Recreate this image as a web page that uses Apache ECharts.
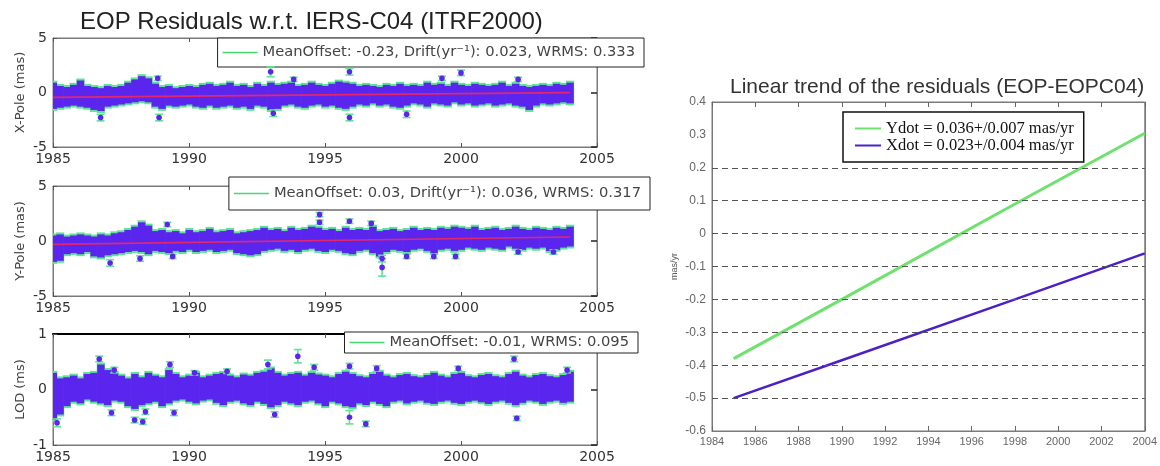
<!DOCTYPE html>
<html>
<head>
<meta charset="utf-8">
<script src="https://cdn.jsdelivr.net/npm/echarts@6/dist/echarts.min.js"></script>
<style>
  html, body { margin: 0; padding: 0; background: #fff; }
  #chart { width: 1160px; height: 466px; }
</style>
</head>
<body>
<div id="chart"></div>
<script>
// ---- Residual clouds: [epoch, lowest, highest] of the dense daily residuals ----
const xPoleBand = [
  [1985.00,-1.5,0.9],[1985.25,-1.4,0.6],[1985.50,-1.3,0.5],[1985.75,-1.2,0.7],
  [1986.00,-1.3,1.1],[1986.25,-1.4,0.6],[1986.50,-1.6,0.5],[1986.75,-1.7,0.4],
  [1987.00,-1.3,0.6],[1987.25,-1.2,0.5],[1987.50,-1.1,0.6],[1987.75,-1.0,0.9],
  [1988.00,-0.9,1.2],[1988.25,-0.8,1.5],[1988.50,-0.9,1.3],[1988.75,-1.3,0.8],
  [1989.00,-1.5,0.5],[1989.25,-1.2,0.6],[1989.50,-1.3,0.4],[1989.75,-1.2,0.5],
  [1990.00,-1.1,0.6],[1990.25,-1.3,0.5],[1990.50,-1.4,0.7],[1990.75,-1.2,0.8],
  [1991.00,-1.4,0.6],[1991.25,-1.3,0.7],[1991.50,-1.2,0.9],[1991.75,-1.4,0.6],
  [1992.00,-1.3,0.7],[1992.25,-1.5,0.5],[1992.50,-1.2,0.8],[1992.75,-1.3,0.6],
  [1993.00,-1.6,0.9],[1993.25,-1.5,0.7],[1993.50,-1.2,0.8],[1993.75,-1.1,0.9],
  [1994.00,-1.3,0.6],[1994.25,-1.4,0.7],[1994.50,-1.2,0.9],[1994.75,-1.1,0.7],
  [1995.00,-1.3,0.6],[1995.25,-1.2,0.8],[1995.50,-1.4,1.0],[1995.75,-1.5,0.9],
  [1996.00,-1.3,0.8],[1996.25,-1.1,0.6],[1996.50,-1.2,0.7],[1996.75,-1.0,0.6],
  [1997.00,-1.2,0.5],[1997.25,-1.1,0.7],[1997.50,-1.3,0.6],[1997.75,-1.4,0.8],
  [1998.00,-1.2,0.6],[1998.25,-1.0,0.7],[1998.50,-1.1,0.6],[1998.75,-1.3,0.9],
  [1999.00,-1.0,0.7],[1999.25,-1.1,0.8],[1999.50,-1.2,0.6],[1999.75,-0.9,0.9],
  [2000.00,-1.1,0.7],[2000.25,-1.0,0.6],[2000.50,-1.2,0.8],[2000.75,-1.1,0.7],
  [2001.00,-1.0,0.6],[2001.25,-1.2,0.7],[2001.50,-1.1,0.9],[2001.75,-1.0,0.6],
  [2002.00,-1.2,0.8],[2002.25,-1.3,0.6],[2002.50,-1.6,0.5],[2002.75,-1.2,0.6],
  [2003.00,-1.0,0.7],[2003.25,-1.1,0.6],[2003.50,-1.0,0.8],[2003.75,-0.9,0.7],
  [2004.00,-1.0,0.9]
];
const yPoleBand = [
  [1985.00,-1.9,0.5],[1985.25,-1.8,0.6],[1985.50,-1.2,0.4],[1985.75,-1.1,0.5],
  [1986.00,-1.2,0.6],[1986.25,-1.0,0.5],[1986.50,-1.4,0.4],[1986.75,-1.5,0.6],
  [1987.00,-1.3,0.5],[1987.25,-1.2,0.7],[1987.50,-1.1,0.8],[1987.75,-1.0,1.0],
  [1988.00,-0.9,1.3],[1988.25,-1.0,1.7],[1988.50,-1.2,1.4],[1988.75,-0.9,0.9],
  [1989.00,-1.0,1.0],[1989.25,-1.1,0.8],[1989.50,-0.9,0.9],[1989.75,-1.0,0.7],
  [1990.00,-0.8,1.0],[1990.25,-1.0,0.8],[1990.50,-0.9,0.9],[1990.75,-0.8,1.1],
  [1991.00,-1.0,0.8],[1991.25,-0.9,0.9],[1991.50,-0.8,1.0],[1991.75,-1.1,0.7],
  [1992.00,-1.2,0.8],[1992.25,-1.3,0.9],[1992.50,-1.2,1.0],[1992.75,-0.9,1.2],
  [1993.00,-0.8,1.0],[1993.25,-0.7,1.1],[1993.50,-0.9,0.9],[1993.75,-0.8,1.2],
  [1994.00,-1.0,1.0],[1994.25,-0.8,1.1],[1994.50,-0.7,1.3],[1994.75,-0.9,1.2],
  [1995.00,-1.0,1.0],[1995.25,-0.8,1.1],[1995.50,-0.9,0.9],[1995.75,-1.1,1.2],
  [1996.00,-1.2,1.0],[1996.25,-0.9,1.1],[1996.50,-0.8,1.0],[1996.75,-1.1,1.3],
  [1997.00,-1.4,0.9],[1997.25,-1.0,1.0],[1997.50,-0.8,1.1],[1997.75,-0.9,0.9],
  [1998.00,-1.0,1.0],[1998.25,-0.8,1.2],[1998.50,-0.7,1.0],[1998.75,-0.9,1.1],
  [1999.00,-1.1,1.0],[1999.25,-0.8,1.2],[1999.50,-0.7,1.1],[1999.75,-0.9,1.3],
  [2000.00,-0.8,1.2],[2000.25,-0.6,1.1],[2000.50,-0.7,1.3],[2000.75,-0.8,1.0],
  [2001.00,-0.6,1.1],[2001.25,-0.7,1.2],[2001.50,-0.8,1.0],[2001.75,-0.5,1.1],
  [2002.00,-0.7,1.3],[2002.25,-0.8,1.1],[2002.50,-0.6,1.0],[2002.75,-0.7,1.2],
  [2003.00,-0.6,1.1],[2003.25,-0.9,1.0],[2003.50,-0.8,1.2],[2003.75,-0.6,1.1],
  [2004.00,-0.5,1.3]
];
const lodBand = [
  [1985.00,-0.55,0.30],[1985.25,-0.45,0.20],[1985.50,-0.30,0.22],[1985.75,-0.22,0.25],
  [1986.00,-0.25,0.20],[1986.25,-0.18,0.28],[1986.50,-0.22,0.30],[1986.75,-0.25,0.45],
  [1987.00,-0.28,0.35],[1987.25,-0.20,0.30],[1987.50,-0.22,0.25],[1987.75,-0.30,0.20],
  [1988.00,-0.35,0.28],[1988.25,-0.28,0.22],[1988.50,-0.25,0.30],[1988.75,-0.22,0.25],
  [1989.00,-0.30,0.22],[1989.25,-0.25,0.35],[1989.50,-0.20,0.28],[1989.75,-0.18,0.22],
  [1990.00,-0.22,0.25],[1990.25,-0.25,0.30],[1990.50,-0.20,0.22],[1990.75,-0.18,0.25],
  [1991.00,-0.24,0.28],[1991.25,-0.28,0.30],[1991.50,-0.22,0.25],[1991.75,-0.20,0.22],
  [1992.00,-0.25,0.27],[1992.25,-0.28,0.25],[1992.50,-0.22,0.30],[1992.75,-0.26,0.32],
  [1993.00,-0.32,0.38],[1993.25,-0.28,0.30],[1993.50,-0.22,0.25],[1993.75,-0.25,0.28],
  [1994.00,-0.28,0.30],[1994.25,-0.22,0.25],[1994.50,-0.20,0.30],[1994.75,-0.25,0.27],
  [1995.00,-0.30,0.25],[1995.25,-0.22,0.22],[1995.50,-0.25,0.28],[1995.75,-0.30,0.32],
  [1996.00,-0.32,0.28],[1996.25,-0.25,0.24],[1996.50,-0.28,0.22],[1996.75,-0.22,0.28],
  [1997.00,-0.26,0.32],[1997.25,-0.30,0.25],[1997.50,-0.22,0.22],[1997.75,-0.20,0.26],
  [1998.00,-0.25,0.28],[1998.25,-0.22,0.24],[1998.50,-0.20,0.22],[1998.75,-0.24,0.26],
  [1999.00,-0.26,0.30],[1999.25,-0.22,0.25],[1999.50,-0.20,0.22],[1999.75,-0.24,0.28],
  [2000.00,-0.26,0.30],[2000.25,-0.22,0.24],[2000.50,-0.20,0.22],[2000.75,-0.23,0.26],
  [2001.00,-0.26,0.28],[2001.25,-0.22,0.24],[2001.50,-0.20,0.22],[2001.75,-0.24,0.28],
  [2002.00,-0.28,0.32],[2002.25,-0.24,0.25],[2002.50,-0.20,0.22],[2002.75,-0.22,0.26],
  [2003.00,-0.26,0.28],[2003.25,-0.22,0.24],[2003.50,-0.20,0.22],[2003.75,-0.24,0.26],
  [2004.00,-0.22,0.32]
];

// ---- Isolated residuals with their formal errors: [epoch, value, sigma] ----
const xPoleSingles = [
  [1986.75,-2.3,0.3],[1988.85,1.3,0.2],[1988.90,-2.3,0.3],[1993.00,1.9,0.45],
  [1993.10,-1.9,0.3],[1993.85,1.2,0.2],[1995.90,1.9,0.3],[1995.90,-2.3,0.3],
  [1998.00,-2.0,0.3],[1999.30,1.3,0.2],[2000.00,1.8,0.25],[2002.10,1.2,0.2]
];
const yPoleSingles = [
  [1987.10,-2.0,0.3],[1988.20,-1.6,0.25],[1989.20,1.5,0.2],[1989.40,-1.4,0.2],
  [1994.80,2.4,0.2],[1994.80,1.7,0.2],[1995.90,1.8,0.2],[1996.70,1.6,0.2],
  [1997.10,-2.4,0.8],[1997.10,-1.6,0.3],[1998.00,-1.4,0.2],[1999.00,-1.4,0.2],
  [1999.80,-1.4,0.2],[2002.10,-1.0,0.2],[2003.40,-1.0,0.2]
];
const lodSingles = [
  [1985.15,-0.60,0.07],[1986.70,0.55,0.05],[1987.15,-0.42,0.05],[1987.25,0.35,0.05],
  [1988.00,-0.55,0.05],[1988.30,-0.58,0.05],[1988.40,-0.40,0.05],[1989.30,0.45,0.05],
  [1989.45,-0.42,0.05],[1990.20,0.30,0.04],[1991.40,0.33,0.04],[1992.90,0.45,0.08],
  [1993.15,-0.45,0.05],[1994.00,0.60,0.12],[1994.60,0.40,0.05],[1995.90,-0.50,0.12],
  [1995.90,0.42,0.05],[1996.50,-0.62,0.05],[1996.90,0.38,0.05],[1999.90,0.38,0.04],
  [2001.95,0.55,0.05],[2002.05,-0.52,0.04],[2003.90,0.35,0.05]
];

// ---- Fitted trends of the pole residuals: [epoch, value] ----
const xPoleFit = [[1985.0,-0.45],[2004.0,-0.01]];
const yPoleFit = [[1985.0,-0.31],[2004.0,0.37]];

// ---- Linear trend panel: [year, mas/yr] ----
const ydotTrend = [[1985,-0.38],[1990,-0.20],[1998,0.09],[2004,0.305]];
const xdotTrend = [[1985,-0.50],[1990,-0.385],[1998,-0.20],[2004,-0.06]];
const trendGridLevels = [0.2,0.1,0,-0.1,-0.2,-0.3,-0.4,-0.5];

// ---- Text ----
const leftTitle = 'EOP Residuals w.r.t. IERS-C04 (ITRF2000)';
const rightTitle = 'Linear trend of the residuals (EOP-EOPC04)';
const panelNames = ['X-Pole (mas)', 'Y-Pole (mas)', 'LOD (ms)'];
const panelLegends = [
  'MeanOffset: -0.23, Drift(yr\u207B\u00B9): 0.023, WRMS: 0.333',
  'MeanOffset: 0.03, Drift(yr\u207B\u00B9): 0.036, WRMS: 0.317',
  'MeanOffset: -0.01, WRMS: 0.095'
];
const trendNames = ['Ydot = 0.036+/0.007 mas/yr', 'Xdot = 0.023+/0.004 mas/yr'];

const SANS = '"Liberation Sans", Arial, sans-serif';
const WIDE = '"DejaVu Sans", Verdana, sans-serif';
const SERIF = '"Liberation Serif", "Times New Roman", serif';
const CLOUD = '#5a26ee';
const HALO = '#5fe396';
const FIT = '#e2286a';
const YDOT = '#6fe16f';
const XDOT = '#4b20c6';
const plain = v => String(v);

const chart = echarts.init(document.getElementById('chart'), null, { renderer: 'canvas' });

const panelGrids = [
  { left: 53, top: 38, width: 544, height: 109 },
  { left: 53, top: 186, width: 544, height: 110 },
  { left: 53, top: 334, width: 544, height: 111 }
];
const panelRanges = [[-5, 5, 5], [-5, 5, 5], [-1, 1, 1]];
const bands = [xPoleBand, yPoleBand, lodBand];
const singles = [xPoleSingles, yPoleSingles, lodSingles];
const fits = [xPoleFit, yPoleFit, null];

const grid = panelGrids.map(g => Object.assign({ show: true, borderColor: '#7a7a7a', borderWidth: 1 }, g));
grid.push({ left: 712, top: 102, width: 435, height: 329, show: true, borderColor: '#7a7a7a', borderWidth: 1 });

const xAxis = [], yAxis = [], series = [], legend = [];

panelGrids.forEach((g, i) => {
  xAxis.push({
    type: 'value', gridIndex: i, min: 1985, max: 2005, interval: 5, position: 'bottom',
    axisLine: { show: true, onZero: false, lineStyle: { color: '#7a7a7a' } },
    axisTick: { inside: true, length: 4, lineStyle: { color: '#555' } },
    axisLabel: { fontFamily: WIDE, fontSize: 14, color: '#333', margin: 5, formatter: plain },
    splitLine: { show: false }
  });
  xAxis.push({
    type: 'value', gridIndex: i, min: 1985, max: 2005, interval: 5, position: 'top',
    axisLine: { show: true, onZero: false, lineStyle: i === 2 ? { color: '#000', width: 2 } : { color: '#7a7a7a' } },
    axisTick: { inside: true, length: 4, lineStyle: { color: '#555' } },
    axisLabel: { show: false }, splitLine: { show: false }
  });
  const r = panelRanges[i];
  yAxis.push({
    type: 'value', gridIndex: i, min: r[0], max: r[1], interval: r[2], position: 'left',
    name: panelNames[i], nameLocation: 'middle', nameGap: 26, nameRotate: 90,
    nameTextStyle: { fontFamily: WIDE, fontSize: 13, color: '#444' },
    axisLine: { show: true, onZero: false, lineStyle: { color: '#7a7a7a' } },
    axisTick: { inside: true, length: 4, lineStyle: { color: '#555' } },
    axisLabel: { fontFamily: WIDE, fontSize: 14, color: '#333', margin: 6, formatter: plain },
    splitLine: { show: false }
  });
  yAxis.push({
    type: 'value', gridIndex: i, min: r[0], max: r[1], interval: r[2], position: 'right',
    axisLine: { show: true, onZero: false, lineStyle: { color: '#7a7a7a' } },
    axisTick: { inside: true, length: 6, lineStyle: { color: '#222', width: 1.5 } },
    axisLabel: { show: false }, splitLine: { show: false }
  });

  const xi = i * 2, yi = i * 2;

  // green error-bar fringe around the cloud
  series.push({
    type: 'custom', name: 'halo' + i, xAxisIndex: xi, yAxisIndex: yi, clip: true, z: 2,
    data: bands[i], encode: { x: 0, y: [1, 2] },
    renderItem: (params, api) => {
      const t = api.value(0), lo = api.value(1), hi = api.value(2);
      const a = api.coord([t, hi]), b = api.coord([t, lo]);
      const w = api.size([0.25, 0])[0];
      return { type: 'rect', shape: { x: a[0] - w / 2 - 0.5, y: a[1] - 2, width: w + 1.5, height: b[1] - a[1] + 4 },
               style: { fill: HALO } };
    }
  });
  // purple cloud of residuals
  series.push({
    type: 'custom', name: 'cloud' + i, xAxisIndex: xi, yAxisIndex: yi, clip: true, z: 3,
    data: bands[i], encode: { x: 0, y: [1, 2] },
    renderItem: (params, api) => {
      const t = api.value(0), lo = api.value(1), hi = api.value(2);
      const a = api.coord([t, hi]), b = api.coord([t, lo]);
      const w = api.size([0.25, 0])[0];
      return { type: 'rect', shape: { x: a[0] - w / 2, y: a[1], width: w + 0.6, height: b[1] - a[1] },
               style: { fill: CLOUD } };
    }
  });
  // isolated residuals with error bars
  series.push({
    type: 'custom', name: panelLegends[i], xAxisIndex: xi, yAxisIndex: yi, clip: true, z: 4,
    itemStyle: { color: '#47d870' },
    data: singles[i], encode: { x: 0, y: 1 },
    renderItem: (params, api) => {
      const t = api.value(0), v = api.value(1), s = api.value(2);
      const top = api.coord([t, v + s]), bot = api.coord([t, v - s]), mid = api.coord([t, v]);
      const lw = { stroke: HALO, lineWidth: 1.6 };
      return { type: 'group', children: [
        { type: 'line', shape: { x1: top[0], y1: top[1], x2: bot[0], y2: bot[1] }, style: lw },
        { type: 'line', shape: { x1: top[0] - 4, y1: top[1], x2: top[0] + 4, y2: top[1] }, style: lw },
        { type: 'line', shape: { x1: bot[0] - 4, y1: bot[1], x2: bot[0] + 4, y2: bot[1] }, style: lw },
        { type: 'circle', shape: { cx: mid[0], cy: mid[1], r: 2.8 }, style: { fill: CLOUD } }
      ] };
    }
  });
  if (fits[i]) {
    series.push({
      type: 'line', name: 'fit' + i, xAxisIndex: xi, yAxisIndex: yi, z: 5,
      data: fits[i], symbol: 'none', lineStyle: { color: FIT, width: 1.6 }
    });
  }
});

const legendBoxes = [
  { right: 516, top: 38, padding: [7, 9, 7, 5] },
  { right: 510, top: 177, padding: [9, 9, 9, 5] },
  { right: 522, top: 332, padding: [3, 9, 3, 5] }
];
panelLegends.forEach((name, i) => {
  legend.push(Object.assign({
    data: [{ name: name, icon: 'rect' }], orient: 'horizontal',
    itemWidth: 35, itemHeight: 1.5, itemGap: 0,
    backgroundColor: '#fff', borderColor: '#222', borderWidth: 1, borderRadius: 0,
    textStyle: { fontFamily: WIDE, fontSize: 14.7, color: '#444' },
    selectedMode: false
  }, legendBoxes[i]));
});

// Linear trend panel
xAxis.push({
  type: 'value', gridIndex: 3, min: 1984, max: 2004, interval: 2, position: 'bottom',
  axisLine: { show: true, onZero: false, lineStyle: { color: '#7a7a7a' } },
  axisTick: { inside: true, length: 5, lineStyle: { color: '#666' } },
  axisLabel: { fontFamily: SANS, fontSize: 11, color: '#666', margin: 5, formatter: plain },
  splitLine: { show: false }
});
xAxis.push({
  type: 'value', gridIndex: 3, min: 1984, max: 2004, interval: 2, position: 'top',
  axisLine: { show: true, onZero: false, lineStyle: { color: '#7a7a7a' } },
  axisTick: { inside: true, length: 5, lineStyle: { color: '#666' } },
  axisLabel: { show: false }, splitLine: { show: false }
});
yAxis.push({
  type: 'value', gridIndex: 3, min: -0.6, max: 0.4, interval: 0.1, position: 'left',
  name: 'mas/yr', nameLocation: 'middle', nameGap: 33, nameRotate: 90,
  nameTextStyle: { fontFamily: SANS, fontSize: 9, color: '#555' },
  axisLine: { show: true, onZero: false, lineStyle: { color: '#7a7a7a' } },
  axisTick: { show: false },
  axisLabel: { fontFamily: SANS, fontSize: 12, color: '#666', margin: 6,
               formatter: v => (Math.abs(v) < 1e-9 ? '0' : v.toFixed(1)) },
  splitLine: { show: false }
});
yAxis.push({
  type: 'value', gridIndex: 3, min: -0.6, max: 0.4, interval: 0.1, position: 'right',
  axisLine: { show: true, onZero: false, lineStyle: { color: '#7a7a7a' } },
  axisTick: { show: false }, axisLabel: { show: false }, splitLine: { show: false }
});

series.push({
  type: 'line', name: 'gridlines', xAxisIndex: 6, yAxisIndex: 6, data: [], silent: true,
  markLine: {
    silent: true, symbol: 'none', label: { show: false },
    lineStyle: { color: '#555', width: 1, type: [6, 4] },
    data: trendGridLevels.map(v => ({ yAxis: v }))
  }
});
series.push({
  type: 'line', name: trendNames[0], xAxisIndex: 6, yAxisIndex: 6, z: 4,
  data: ydotTrend, symbol: 'none', lineStyle: { color: YDOT, width: 3 }, itemStyle: { color: YDOT }
});
series.push({
  type: 'line', name: trendNames[1], xAxisIndex: 6, yAxisIndex: 6, z: 4,
  data: xdotTrend, symbol: 'none', lineStyle: { color: XDOT, width: 2.5 }, itemStyle: { color: XDOT }
});
legend.push({
  data: [{ name: trendNames[0], icon: 'rect' }, { name: trendNames[1], icon: 'rect' }],
  orient: 'vertical', left: 843, top: 112,
  itemWidth: 26, itemHeight: 2, itemGap: 0,
  backgroundColor: '#fff', borderColor: '#111', borderWidth: 1.5, borderRadius: 0,
  padding: [8, 10, 8, 12],
  textStyle: { fontFamily: SERIF, fontSize: 16.5, color: '#111', lineHeight: 14 },
  selectedMode: false
});

chart.setOption({
  backgroundColor: '#fff',
  animation: false,
  title: [
    { text: leftTitle, left: 80, top: 10, padding: 0,
      textStyle: { fontFamily: SANS, fontSize: 24, fontWeight: 'normal', color: '#222' } },
    { text: rightTitle, left: 730, top: 77, padding: 0,
      textStyle: { fontFamily: SANS, fontSize: 21, fontWeight: 'normal', color: '#333' } }
  ],
  grid, xAxis, yAxis, legend, series
});
</script>
</body>
</html>
